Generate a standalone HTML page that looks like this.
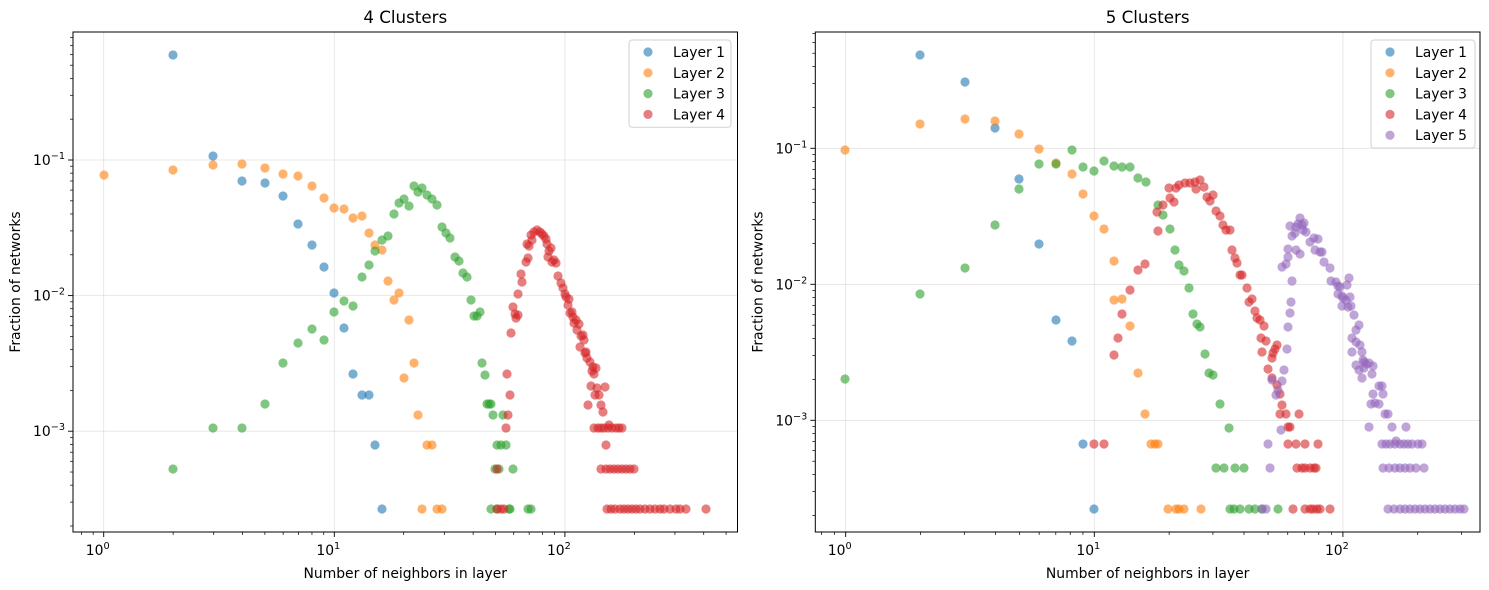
<!DOCTYPE html>
<html><head><meta charset="utf-8"><style>
html,body{margin:0;padding:0;background:#fff;width:1489px;height:590px;overflow:hidden}
svg{display:block;font-family:"DejaVu Sans","Liberation Sans",sans-serif}
</style></head><body>
<svg id="s" width="1489" height="590" xmlns="http://www.w3.org/2000/svg"></svg>
<script>
const S=document.getElementById('s');let h='';
const C={b:'#1f77b4',o:'#ff7f0e',g:'#2ca02c',r:'#d62728',p:'#9467bd'};
function axes(L,R,T,B,x0,dx,y1,dy,xmaxDec,ymin,title){
 for(let d=0;d<=xmaxDec;d++){const x=x0+d*dx;if(x>L&&x<R)h+=`<line x1="${x}" y1="${T}" x2="${x}" y2="${B}" stroke="#b0b0b0" stroke-opacity="0.35" stroke-width="0.8"/>`;}
 for(let e=-4;e<=0;e++){const y=y1-(e+1)*dy;if(y>T&&y<B)h+=`<line x1="${L}" y1="${y}" x2="${R}" y2="${y}" stroke="#b0b0b0" stroke-opacity="0.35" stroke-width="0.8"/>`;}
 for(let d=-1;d<=3;d++){for(let m=1;m<10;m++){const x=x0+(d+Math.log10(m))*dx;if(x<L-0.5||x>R+0.5)continue;
  if(m==1){h+=`<line x1="${x}" y1="${B}" x2="${x}" y2="${B+5}" stroke="#000" stroke-width="0.9"/><text x="${x-6}" y="${B+23}" font-size="13.9" text-anchor="middle">10<tspan font-size="9.7" dy="-6">${d}</tspan></text>`;}
  else h+=`<line x1="${x}" y1="${B}" x2="${x}" y2="${B+3}" stroke="#000" stroke-width="0.7"/>`;}}
 for(let e=-5;e<=0;e++){for(let m=1;m<10;m++){const y=y1-(e+1+Math.log10(m))*dy;if(y<T-0.5||y>B+0.5)continue;
  if(m==1){h+=`<line x1="${L}" y1="${y}" x2="${L-5}" y2="${y}" stroke="#000" stroke-width="0.9"/><text x="${L-8}" y="${y+5}" font-size="13.9" text-anchor="end">10<tspan font-size="9.7" dy="-6">−${-e}</tspan></text>`;}
  else h+=`<line x1="${L}" y1="${y}" x2="${L-3}" y2="${y}" stroke="#000" stroke-width="0.7"/>`;}}
 h+=`<text x="${(L+R)/2}" y="23" font-size="16.7" text-anchor="middle">${title}</text>`;
 h+=`<text x="${(L+R)/2}" y="578" font-size="13.9" text-anchor="middle">Number of neighbors in layer</text>`;
 h+=`<text transform="translate(${L-53},${(T+B)/2}) rotate(-90)" font-size="13.9" text-anchor="middle">Fraction of networks</text>`;
}
function pts(col,arr){for(let i=0;i<arr.length;i+=2)h+=`<circle cx="${arr[i]}" cy="${arr[i+1]}" r="4.6" fill="${col}" fill-opacity="0.6"/>`;}
function row(col,y,xs){for(const x of xs)h+=`<circle cx="${x}" cy="${y}" r="4.6" fill="${col}" fill-opacity="0.6"/>`;}
axes(73,737.5,32,532,103.7,230.6,160,135.6,2,0,'4 Clusters');
axes(815.3,1480,32,532,845.7,248.6,148.3,136,2,0,'5 Clusters');
pts(C.b,[173,55,213,156,242,181,265,183,283,196,298,224,312,245,324,267,334,293,344,328,353,374,362,395,369,395,375,445,382,509]);
pts(C.o,[104,175,173,170,213,165,242,164,265,168,283,174,298,176,312,186,324,198,334,208,344,209,353,218,362,216,369,233,375,245,382,250,388,281,394,300,399,293,404,378,409,320,414,363,418,415,422,509,427,445,432,445,437,509,442,509]);
pts(C.g,[173,469,213,428,242,428,265,404,283,363,298,343,312,329,324,340,334,312,344,301,353,306,362,277,369,265,375,251,382,240,388,236,394,214,399,203,404,199,409,206,414,186,418,192,422,188,427,195,432,199,437,205,442,227,446,233,450,238,455,257,459,261,463,273,467,277,471,300,474,316,477,316,480,312,482,363,485,375,487,404,489,404,491,404,493,415,495,469,497,445,499,469,501,445,503,415,506,445,509,509,513,469,491,509,497,509,510,509,528,509,531,509]);
pts(C.r,[507,374,510,395,508,415,506,428,497,469,497,509,501,509,504,509,511,333,513,307,516,318,518,315,515,314,521,274,518,294,522,282,526,262,528,258,529,246,527,244,532,240,531,235,534,232,537,230,540,232,542,234,544,236,546,239,547,244,549,251,548,257,551,248,552,262,554,260,556,263,558,276,561,283,563,288,565,294,566,297,568,305,569,299,570,313,572,312,573,317,576,320,574,323,577,330,579,324,581,336,583,335,584,340,580,347,585,353,587,358,590,362,593,367,594,374,592,371,596,368,586,352,588,405,591,386,595,395,597,388,599,395,601,405,603,412,605,387,609,425]);
row(C.r,428,[594,598,601,604,608,612,616,619,622]);
row(C.r,445,[606]);
row(C.r,469,[601,606,610,614,618,622,626,630,634]);
row(C.r,509,[607,611,615,620,624,628,632,636,640,645,650,655,660,664,670,676,680,686,706]);
pts(C.b,[920,55,965,82,995,128,1019,179,1039,244,1056,320,1072,341,1083,444,1094,509]);
pts(C.o,[845,150,920,124,965,119,995,121,1019,134,1039,149,1056,163,1072,174,1083,194,1094,216,1104,229,1114,261,1114,300,1122,299,1130,326,1138,373,1145,414,1151,444,1155,444,1158,444,1168,509,1176,509,1179,509,1184,509,1201,509]);
pts(C.g,[845,379,920,294,965,268,995,225,1019,189,1039,164,1056,164,1072,150,1083,167,1094,171,1104,161,1114,166,1122,167,1130,167,1138,178,1146,182,1158,205,1163,215,1170,229,1175,250,1179,265,1184,271,1189,288,1193,314,1197,324,1200,327,1205,354,1209,373,1213,375,1220,404,1229,428,1216,468,1224,468,1235,468,1244,468,1230,509,1234,509,1240,509,1249,509,1255,509,1262,509,1278,509]);
pts(C.r,[1104,444,1094,444,1114,355,1118,338,1122,314,1130,290,1138,270,1145,264,1158,231,1163,205,1157,212,1170,198,1176,188,1174,202,1169,188,1179,185,1185,183,1190,183,1195,182,1200,180,1196,189,1204,187,1207,197,1210,201,1213,195,1216,211,1220,216,1223,225,1226,230,1230,230,1232,250,1235,258,1237,263,1240,275,1242,275,1247,288,1249,302,1252,299,1255,311,1257,318,1260,320,1264,326,1261,338,1266,341,1272,358,1273,353,1275,349,1277,345,1262,352,1268,369,1272,378,1277,385,1280,394,1282,405,1280,414,1286,414,1299,414,1290,427,1288,427]);
row(C.r,444,[1288,1296,1305,1318]);
row(C.r,468,[1297,1302,1305,1310,1314,1316]);
row(C.r,509,[1293,1305,1310,1313,1317,1320,1330]);
pts(C.p,[1268,444,1266,509,1262,509,1270,468,1281,430,1272,380,1276,395,1278,390,1282,381,1284,370,1287,349,1288,327,1290,313,1291,302,1292,281,1288,257,1286,264,1282,267,1288,249,1290,226,1292,236,1295,233,1296,227,1298,224,1300,218,1302,225,1304,223,1296,250,1300,254,1303,230,1306,232,1310,242,1314,238,1318,239,1315,250,1320,252,1322,252,1324,262,1330,268,1331,281,1336,282,1338,286,1338,294,1340,287,1342,296,1342,306,1349,278,1347,285,1343,298,1346,300,1348,307,1350,297,1351,306,1354,315,1359,325,1356,330,1352,338,1352,352,1356,342,1360,345,1362,352,1363,360,1364,368,1364,362,1356,365,1359,370,1362,378,1366,364,1369,363,1373,366,1372,374,1379,386,1373,394,1371,404,1375,403,1379,404,1382,386,1383,394,1385,414,1388,414,1369,427,1392,427,1406,427,1396,441]);
row(C.p,444,[1382,1386,1390,1395,1400,1404,1408,1412,1418,1422]);
row(C.p,468,[1383,1389,1395,1400,1405,1410,1416,1424]);
row(C.p,509,[1388,1394,1400,1405,1410,1415,1420,1425,1430,1435,1440,1445,1450,1455,1460,1464]);
h+=`<rect x="73" y="32" width="664.5" height="500" fill="none" stroke="#000" stroke-width="1"/>`;
h+=`<rect x="815.3" y="32" width="664.7" height="500" fill="none" stroke="#000" stroke-width="1"/>`;
function legend(x,y,w,items){h+=`<rect x="${x}" y="${y}" width="${w}" height="${items.length*20.8+4}" rx="3" fill="#fff" fill-opacity="0.8" stroke="#d0d0d0"/>`;
 items.forEach((c,i)=>{const cy=y+12+i*20.8;h+=`<circle cx="${x+19}" cy="${cy}" r="4.6" fill="${c}" fill-opacity="0.6"/><text x="${x+44}" y="${cy+5}" font-size="13.9">Layer ${i+1}</text>`;});}
legend(629,40,102,[C.b,C.o,C.g,C.r]);
legend(1371,40,104,[C.b,C.o,C.g,C.r,C.p]);
S.innerHTML=h;
</script>
</body></html>
